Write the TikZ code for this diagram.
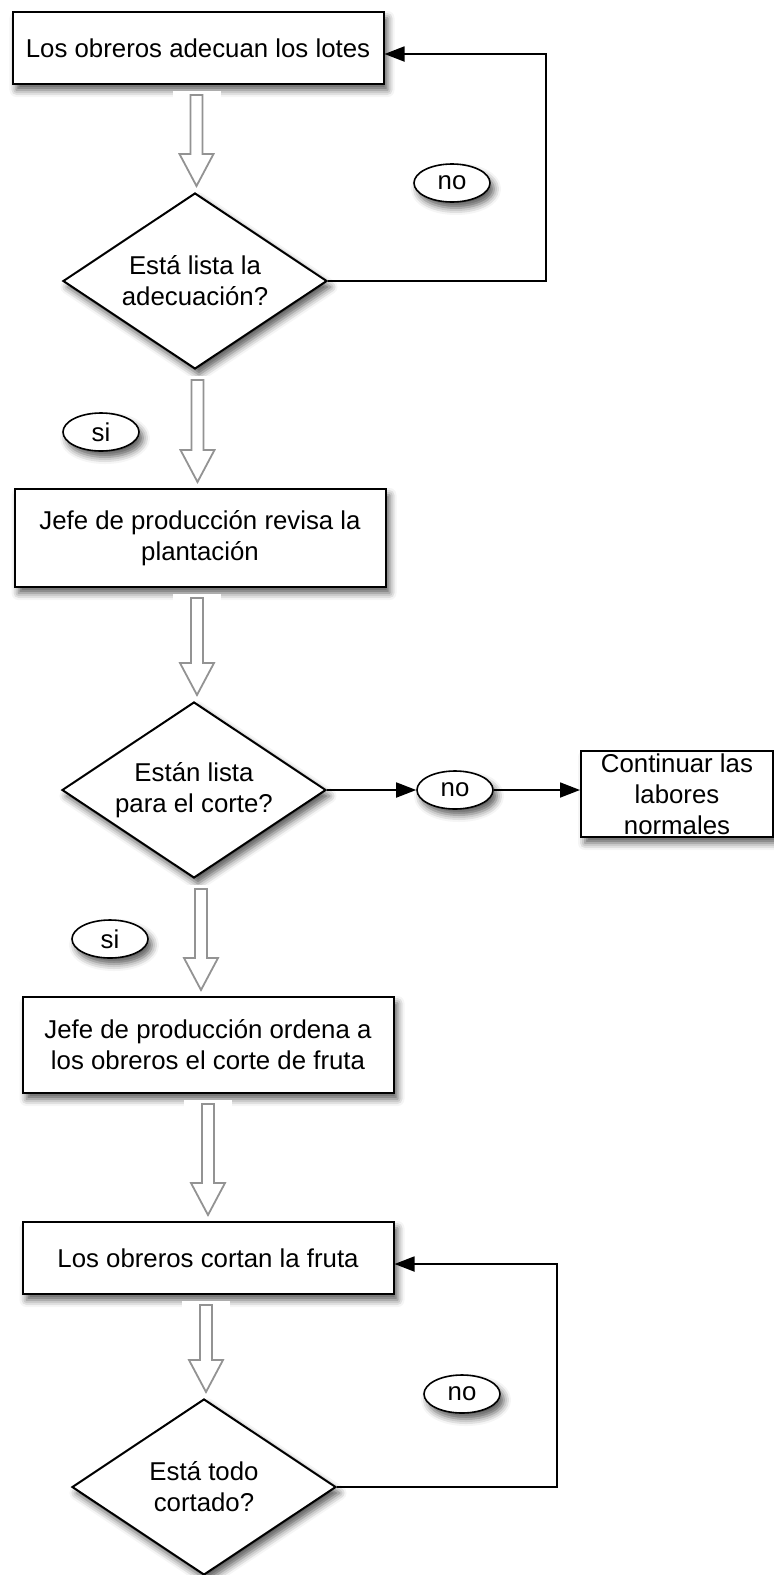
\documentclass[tikz,border=0pt]{standalone}
\usepackage{fontspec}
\setmainfont{Liberation Sans}
\usetikzlibrary{arrows.meta,shapes.geometric,calc,shadows.blur}

\newcommand{\hueca}[2]{%
  \path ($(#1.south)!0.5!(#2.north)$) coordinate (hm);
  \path (hm |- #1.south) coordinate (ha) (hm |- #2.north) coordinate (hb);
  \fill[white] ($(ha)+(-24,6)$) rectangle ($(hb)+(24,-1)$);
  \draw[hueco] ($(ha)+(-6,10)$) -- ($(hb)+(-6,-38)$) -- ($(hb)+(-17,-38)$)
     -- ($(hb)+(0,-6)$) -- ($(hb)+(17,-38)$) -- ($(hb)+(6,-38)$)
     -- ($(ha)+(6,10)$) -- cycle;}

\begin{document}
\begin{tikzpicture}[x=1pt,y=-1pt,
    font=\fontsize{25.8}{31}\selectfont,
    sombra/.style={blur shadow={shadow xshift=4pt,shadow yshift=-6pt,shadow blur radius=7pt,shadow opacity=65}},
    caja/.style={draw,line width=2pt,fill=white,sombra,inner sep=0pt,align=center,minimum width=371pt},
    cond/.style={diamond,draw,line width=2pt,fill=white,sombra,inner sep=0pt,aspect=1.5,
                 minimum width=264pt,minimum height=176pt,align=center},
    resp/.style={ellipse,draw,line width=1.6pt,fill=white,sombra,inner sep=0pt,
                 minimum width=76pt,minimum height=38pt},
    flecha/.style={line width=1.8pt,-{Triangle[length=20pt,width=15pt]}},
    hueco/.style={draw=gray!85,line width=1.8pt,line join=miter}]
    \useasboundingbox (0,0) rectangle (774,1575);

        \node[caja,minimum height=72pt] (B1) at (198,48)   {Los obreros adecuan los lotes};
        \node[cond]                     (D1) at (195,281)  {Está lista la\\adecuación?};
        \node[caja,minimum height=98pt] (B2) at (200,538)  {Jefe de producción revisa la\\plantación};
        \node[cond]                     (D2) at (194,790)  {Están lista\\para el corte?};
        \node[caja,minimum width=192pt,minimum height=86pt] (B3) at (677,794) {Continuar las\\labores\\normales};
        \node[caja,minimum height=96pt] (B4) at (208,1045) {Jefe de producción ordena a\\los obreros el corte de fruta};
        \node[caja,minimum height=72pt] (B5) at (208,1258) {Los obreros cortan la fruta};
        \node[cond]                     (D3) at (204,1487) {Está todo\\cortado?};

        \node[resp] (N1) at (452,183)  {no};
        \node[resp] (S1) at (101,432)  {si};
        \node[resp] (N2) at (455,790)  {no};
        \node[resp] (S2) at (110,939)  {si};
        \node[resp] (N3) at (462,1394) {no};

        \coordinate (c1) at (546,54);
        \coordinate (c2) at (557,1264);

        \draw[flecha] (D1.east) -| (c1) -- (c1 -| B1.east);
        \draw[flecha] (D2.east) -- (N2.west);
        \draw[flecha] (N2.east) -- (N2.east -| B3.west);
        \draw[flecha] (D3.east) -| (c2) -- (c2 -| B5.east);

        \hueca{B1}{D1}
        \hueca{D1}{B2}
        \hueca{B2}{D2}
        \hueca{D2}{B4}
        \hueca{B4}{B5}
        \hueca{B5}{D3}
\end{tikzpicture}
\end{document}
